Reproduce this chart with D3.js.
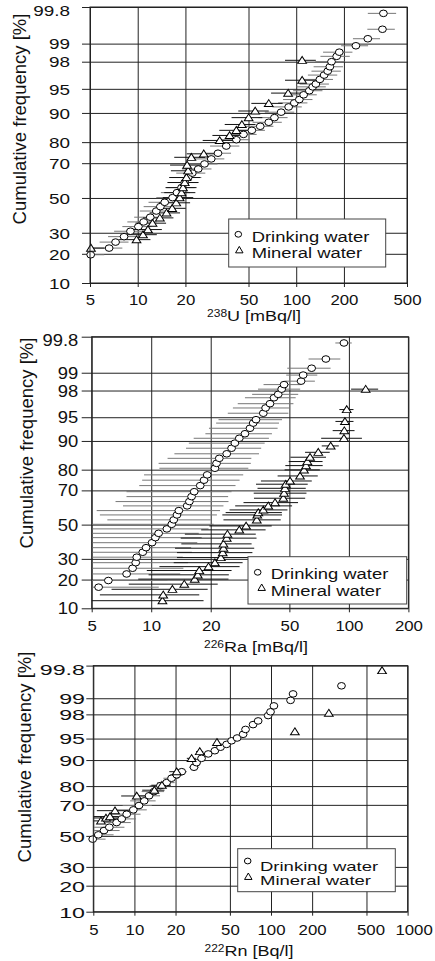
<!DOCTYPE html>
<html>
<head>
<meta charset="utf-8">
<script src="https://cdn.jsdelivr.net/npm/d3@7"></script>
<style>
  body { margin: 0; background: #fff; }
  svg { display: block; font-family: "Liberation Sans", Arial, sans-serif; }
</style>
</head>
<body>
<script>
// cumulative frequency ticks shared by the three panels
const yTicks = [10, 20, 30, 50, 70, 80, 90, 95, 98, 99, 99.8];

// ---- 238U [mBq/l] ----
const uTicks = [5, 10, 20, 50, 100, 200, 500];
const uDrinkVal = [5.05, 6.6, 7.25, 8.2, 9.0, 10.1, 10.9, 12.0, 13.1, 13.9, 14.8, 16.6, 17.7, 18.9, 19.8, 20.8, 22.1, 24.1, 26.4, 29.1, 32.1, 36.2, 41.9, 46.5, 52.5, 59.3, 67.1, 72.9, 80.3, 89.6, 97.3, 104.6, 111.4, 121, 127, 133, 141, 150, 158, 163, 167, 180, 187, 238, 283, 350, 355];
const uDrinkPct = [19.6, 22.5, 25.3, 28.0, 30.8, 33.3, 35.9, 38.6, 42.2, 44.8, 47.4, 50.2, 53.2, 56.2, 59.2, 62.1, 64.6, 66.9, 69.6, 72.2, 75.0, 78.3, 81.0, 83.1, 84.6, 86.0, 87.3, 88.7, 90.2, 91.5, 92.4, 93.1, 94.0, 94.7, 95.3, 95.7, 96.3, 96.8, 97.2, 97.6, 98.0, 98.36, 98.6, 98.91, 99.18, 99.45, 99.73];
const uDrinkErr = [1.1, 1.4, 1.5, 1.7, 1.9, 2.1, 2.3, 2.5, 2.8, 3.0, 3.1, 3.5, 3.7, 4.0, 4.2, 4.4, 4.6, 5.1, 5.5, 6.1, 6.7, 7.6, 8.8, 9.8, 11, 12.5, 14, 15.3, 16.9, 18.8, 20.4, 22, 23.4, 25.4, 26.7, 27.9, 29.6, 31.5, 33.2, 34.2, 35, 37.8, 39.3, 46, 55, 69, 72];
const uMinVal = [5.07, 9.83, 10.8, 11.6, 12.4, 13.8, 15.2, 16.5, 17.5, 18.4, 18.9, 19.3, 19.8, 20.3, 20.8, 20.5, 21.8, 26.1, 32.9, 38.0, 41.9, 45.4, 50.1, 55.1, 67.1, 88.9, 109, 109];
const uMinPct = [22.5, 26.5, 29.0, 31.7, 35.2, 38.2, 41.1, 43.8, 47.1, 50.2, 53.2, 56.2, 59.2, 62.1, 65.9, 69.0, 73.0, 74.7, 80.7, 82.7, 84.6, 86.6, 88.7, 90.5, 92.3, 94.3, 96.2, 98.1];
const uMinErr = [1.1, 2.2, 2.4, 2.6, 2.7, 3.0, 3.3, 3.6, 3.9, 4.0, 4.2, 4.2, 4.4, 4.5, 4.6, 4.5, 4.8, 5.7, 7.2, 8.4, 9.2, 10, 11, 12, 15, 19.5, 24, 24];

// ---- 226Ra [mBq/l] ----
const raTicks = [5, 10, 20, 50, 100, 200];
const raDrinkVal = [5.42, 6.07, 7.51, 8.05, 8.35, 8.45, 9.06, 9.42, 10.1, 10.5, 10.9, 12.0, 12.7, 13.0, 13.5, 13.8, 15.2, 15.6, 16.0, 16.5, 17.7, 18.5, 19.2, 21.0, 21.4, 22.1, 24.1, 25.5, 26.5, 27.9, 29.8, 31.6, 32.8, 33.9, 36.9, 37.9, 39.9, 41.8, 43.9, 45.7, 47.0, 57.3, 58.7, 64.8, 76.5, 94.4];
const raDrinkPct = [16.9, 19.6, 22.5, 25.2, 28.0, 30.9, 33.6, 36.2, 39.1, 42.1, 44.7, 47.4, 50.2, 52.9, 55.9, 58.5, 61.3, 63.8, 66.6, 69.3, 72.5, 75.2, 77.7, 80.6, 82.6, 84.5, 86.1, 87.9, 89.4, 90.7, 91.8, 93.0, 94.0, 94.6, 95.6, 96.3, 96.8, 97.4, 97.7, 98.1, 98.4, 98.6, 98.9, 99.17, 99.44, 99.73];
const raDrinkErr = [5.5, 6, 6.5, 6.5, 7, 6, 7, 6.5, 7, 7.5, 6.5, 7.5, 8, 7, 8, 8.5, 8, 9, 8.5, 9, 9, 9.5, 10, 10, 10.5, 10, 11, 10.5, 11, 11.5, 11, 12, 11.5, 12, 12.5, 12, 12.5, 12, 11.5, 11, 10, 10, 10.5, 16, 14, 9];
const raMinVal = [11.4, 11.5, 12.8, 14.7, 16.6, 17.2, 17.5, 19.5, 21.0, 22.5, 23.0, 23.2, 23.2, 24.1, 24.3, 27.9, 30.2, 34.2, 34.4, 34.8, 36.9, 39.1, 42.3, 46.6, 47.0, 47.5, 47.9, 50.4, 56.6, 59.3, 60.7, 61.6, 63.6, 70.0, 80.9, 94.4, 94.8, 95.5, 97.5, 121.6];
const raMinPct = [12.2, 14.1, 16.1, 18.1, 20.2, 22.1, 24.1, 26.0, 28.0, 30.7, 33.4, 35.9, 38.4, 41.8, 44.2, 46.8, 49.2, 52.9, 55.9, 57.3, 58.9, 61.3, 63.2, 65.7, 68.5, 71.1, 73.2, 74.8, 77.2, 79.9, 81.7, 83.3, 84.9, 86.6, 88.6, 90.7, 92.5, 94.3, 96.1, 98.1];
const raMinErr = [7, 6, 6.5, 7, 8, 7.5, 8, 8.5, 8, 9, 9.5, 10, 9, 10, 9.5, 10, 10.5, 11, 11.5, 11, 12, 12.5, 13, 13.5, 14, 13, 14, 14.5, 13, 12, 13, 12, 13, 10, 8, 22, 12, 10, 8, 19];

// ---- 222Rn [Bq/l] ----
const rnTicks = [5, 10, 20, 50, 100, 200, 500, 1000];
const rnDrinkVal = [4.95, 5.44, 5.99, 6.55, 7.41, 8.07, 8.78, 9.82, 10.8, 11.8, 12.8, 13.9, 15.5, 17.2, 18.7, 20.4, 22.2, 27.3, 28.5, 31.0, 34.7, 38.8, 42.7, 47.3, 51.4, 56.5, 62.5, 65.1, 73.9, 80.5, 95.3, 99.2, 105, 139, 145, 328];
const rnDrinkPct = [47.8, 50.7, 53.6, 55.8, 58.9, 61.3, 64.3, 67.0, 69.6, 72.3, 75.1, 77.3, 80.2, 81.6, 83.5, 84.9, 86.1, 87.7, 89.2, 90.5, 91.7, 92.5, 93.3, 93.9, 94.6, 95.1, 95.7, 96.4, 97.0, 97.4, 97.9, 98.2, 98.6, 98.9, 99.18, 99.44];
const rnDrinkErr = [1.2, 1.6, 1.8, 1.9, 2.0, 2.2, 2.3, 2.5, 2.6, 2.5, 2.6, 2.6, 2.6, 2.5, 2.4, 2.2, 2.0, 2.2, 2.0, 1.8, 1.5, 1.5, 1.4, 1.3, 1.2, 1.2, 1.1, 1.2, 1.0, 1.0, 1.0, 1.0, 1.0, 1.0, 1.0, 1.0];
const rnMinVal = [5.69, 6.19, 6.63, 7.21, 10.4, 14.0, 15.9, 20.4, 26.2, 30.1, 40.2, 149.5, 265, 650];
const rnMinPct = [60.0, 61.9, 62.8, 66.5, 75.0, 78.0, 80.4, 86.1, 90.5, 92.3, 94.3, 96.1, 98.1, 99.74];
const rnMinErr = [1.5, 1.7, 1.8, 1.9, 2.4, 2.6, 2.6, 2.4, 2.0, 1.8, 1.5, 1.0, 1.0, 1.0];

const seriesNames = ["Drinking water", "Mineral water"];

// inverse normal CDF (Acklam), used for the probability axis
function probit(p) {
  const a = [-39.69683028665376, 220.9460984245205, -275.9285104469687, 138.3577518672690, -30.66479806614716, 2.506628277459239];
  const b = [-54.47609879822406, 161.5858368580409, -155.6989798598866, 66.80131188771972, -13.28068155288572];
  const c = [-0.007784894002430293, -0.3223964580411365, -2.400758277161838, -2.549732539343734, 4.374664141464968, 2.938163982698783];
  const d = [0.007784695709041462, 0.3224671290700398, 2.445134137142996, 3.754408661907416];
  const pl = 0.02425;
  let q, r;
  if (p < pl) {
    q = Math.sqrt(-2 * Math.log(p));
    return (((((c[0]*q+c[1])*q+c[2])*q+c[3])*q+c[4])*q+c[5]) / ((((d[0]*q+d[1])*q+d[2])*q+d[3])*q+1);
  }
  if (p <= 1 - pl) {
    q = p - 0.5; r = q * q;
    return (((((a[0]*r+a[1])*r+a[2])*r+a[3])*r+a[4])*r+a[5])*q / (((((b[0]*r+b[1])*r+b[2])*r+b[3])*r+b[4])*r+1);
  }
  q = Math.sqrt(-2 * Math.log(1 - p));
  return -(((((c[0]*q+c[1])*q+c[2])*q+c[3])*q+c[4])*q+c[5]) / ((((d[0]*q+d[1])*q+d[2])*q+d[3])*q+1);
}

const zip = (v, p, e) => v.map((d, i) => ({v: d, p: p[i], e: e[i]}));

const panels = [
  {
    left: 90, right: 407, top: 7, bottom: 283, xTicks: uTicks, xShift: {},
    drink: zip(uDrinkVal, uDrinkPct, uDrinkErr), mineral: zip(uMinVal, uMinPct, uMinErr),
    iso: "238", el: "U [mBq/l]", titleX: 254, titleY: 321,
    yLabRight: 70, yFont: 15, ySx: 1.26, yTick: 8, xBase: 22, yTitleX: 26, yTitleY: 119,
    legend: {x: 228.7, y: 219, w: 157, h: 48, cx: 238.3, cy: 234.3, tx: 239.3, ty: 250.7, textX: 251.7, b1: 242.3, b2: 258.3, fs: 14.5, sx: 1.27}
  },
  {
    left: 91.7, right: 408.4, top: 336.7, bottom: 608.3, xTicks: raTicks, xShift: {},
    drink: zip(raDrinkVal, raDrinkPct, raDrinkErr), mineral: zip(raMinVal, raMinPct, raMinErr),
    iso: "226", el: "Ra [mBq/l]", titleX: 256, titleY: 652,
    yLabRight: 78.3, yFont: 16, ySx: 1.15, yTick: 10, xBase: 22.7, yTitleX: 33, yTitleY: 443,
    legend: {x: 248, y: 556.7, w: 158.7, h: 47.3, cx: 257.7, cy: 572.3, tx: 261.7, ty: 588.3, textX: 270.7, b1: 579.3, b2: 595.7, fs: 14.5, sx: 1.27}
  },
  {
    left: 93.3, right: 407.6, top: 665.6, bottom: 911.7, xTicks: rnTicks, xShift: {500: 4, 1000: 6},
    drink: zip(rnDrinkVal, rnDrinkPct, rnDrinkErr), mineral: zip(rnMinVal, rnMinPct, rnMinErr),
    iso: "222", el: "Rn [Bq/l]", titleX: 249, titleY: 956,
    yLabRight: 85, yFont: 15.5, ySx: 1.5, yTick: 7, xBase: 23.3, yTitleX: 31, yTitleY: 757,
    legend: {x: 237.7, y: 848.7, w: 157.6, h: 43, cx: 247.7, cy: 861, tx: 248.3, ty: 877.3, textX: 260, b1: 870.7, b2: 885, fs: 13.5, sx: 1.37}
  }
];

const svg = d3.select("body").append("svg")
  .attr("width", 435).attr("height", 961);

svg.append("rect").attr("width", 435).attr("height", 961).attr("fill", "#fff");

const tri = d3.symbol(d3.symbolTriangle, 30)();

panels.forEach((cfg, k) => {
  const w = cfg.right - cfg.left, h = cfg.bottom - cfg.top;
  const x = d3.scaleLog().domain([cfg.xTicks[0], cfg.xTicks[cfg.xTicks.length - 1]]).range([0, w]);
  const yz = d3.scaleLinear().domain([probit(0.10), probit(0.998)]).range([h, 0]);
  const y = p => yz(probit(p / 100));

  const g = svg.append("g").attr("transform", `translate(${cfg.left},${cfg.top})`);

  svg.append("clipPath").attr("id", "clip" + k)
    .append("rect").attr("width", w).attr("height", h);

  // y axis + horizontal grid
  const ya = g.append("g")
    .call(d3.axisLeft(yz).tickValues(yTicks.map(p => probit(p / 100)))
      .tickFormat((d, i) => yTicks[i]).tickSize(cfg.yTick))
    .call(a => a.select(".domain").remove());
  ya.selectAll(".tick line").attr("x1", w).attr("stroke", "#222");
  ya.selectAll(".tick text")
    .attr("font-size", cfg.yFont).attr("fill", "#111")
    .attr("x", -(cfg.left - cfg.yLabRight) / cfg.ySx)
    .attr("dy", (d, i) => i === yTicks.length - 1 ? "0.55em" : "0.35em")
    .attr("transform", `scale(${cfg.ySx},1)`);

  // x axis + vertical grid
  const xa = g.append("g").attr("transform", `translate(0,${h})`)
    .call(d3.axisBottom(x).tickValues(cfg.xTicks).tickFormat(d => d).tickSize(4))
    .call(a => a.select(".domain").remove());
  xa.selectAll(".tick line").attr("y1", -h).attr("stroke", "#222");
  xa.selectAll(".tick text")
    .attr("font-size", 14).attr("fill", "#111")
    .attr("x", d => (cfg.xShift[d] || 0) / 1.2)
    .attr("y", cfg.xBase).attr("dy", 0)
    .attr("transform", "scale(1.2,1)");
  ya.attr("font-family", null);
  xa.attr("font-family", null);

  // error bars
  const bars = g.append("g").attr("clip-path", `url(#clip${k})`);
  [["drink", "#777"], ["mineral", "#111"]].forEach(([key, col]) => {
    bars.append("g").selectAll("line").data(cfg[key]).join("line")
      .attr("x1", d => x(Math.max(d.v - d.e, 1e-3)))
      .attr("x2", d => x(d.v + d.e))
      .attr("y1", d => y(d.p)).attr("y2", d => y(d.p))
      .attr("stroke", col).attr("stroke-width", 1);
  });

  // markers
  g.append("g").selectAll("ellipse").data(cfg.drink).join("ellipse")
    .attr("cx", d => x(d.v)).attr("cy", d => y(d.p))
    .attr("rx", 3.9).attr("ry", 3.3)
    .attr("fill", "#fff").attr("stroke", "#000").attr("stroke-width", 1);
  g.append("g").selectAll("path").data(cfg.mineral).join("path")
    .attr("d", tri)
    .attr("transform", d => `translate(${x(d.v)},${y(d.p) + 0.8}) scale(1.05,0.95)`)
    .attr("fill", "#fff").attr("stroke", "#000").attr("stroke-width", 1);

  // frame
  g.append("rect").attr("width", w).attr("height", h)
    .attr("fill", "none").attr("stroke", "#222").attr("stroke-width", 1);

  // legend
  const L = cfg.legend;
  const lg = svg.append("g");
  lg.append("rect").attr("x", L.x).attr("y", L.y).attr("width", L.w).attr("height", L.h)
    .attr("fill", "#fff").attr("stroke", "#444");
  lg.append("ellipse").attr("cx", L.cx).attr("cy", L.cy).attr("rx", 3.3).attr("ry", 2.9)
    .attr("fill", "#fff").attr("stroke", "#000");
  lg.append("path").attr("d", d3.symbol(d3.symbolTriangle, 24)())
    .attr("transform", `translate(${L.tx},${L.ty})`)
    .attr("fill", "#fff").attr("stroke", "#000");
  [L.b1, L.b2].forEach((b, i) => {
    lg.append("text")
      .attr("transform", `translate(${L.textX},${b}) scale(${L.sx},1)`)
      .attr("font-size", L.fs).attr("fill", "#111")
      .text(seriesNames[i]);
  });

  // axis titles
  svg.append("text")
    .attr("transform", `translate(${cfg.yTitleX},${cfg.yTitleY}) rotate(-90)`)
    .attr("text-anchor", "middle").attr("font-size", 18.5).attr("fill", "#111")
    .text("Cumulative frequency [%]");

  const xt = svg.append("text")
    .attr("transform", `translate(${cfg.titleX},${cfg.titleY}) scale(1.2,1)`)
    .attr("text-anchor", "middle").attr("font-size", 15).attr("fill", "#111");
  xt.append("tspan").attr("font-size", 10).attr("dy", -4).text(cfg.iso);
  xt.append("tspan").attr("dy", 4).text(cfg.el);
});
</script>
</body>
</html>
